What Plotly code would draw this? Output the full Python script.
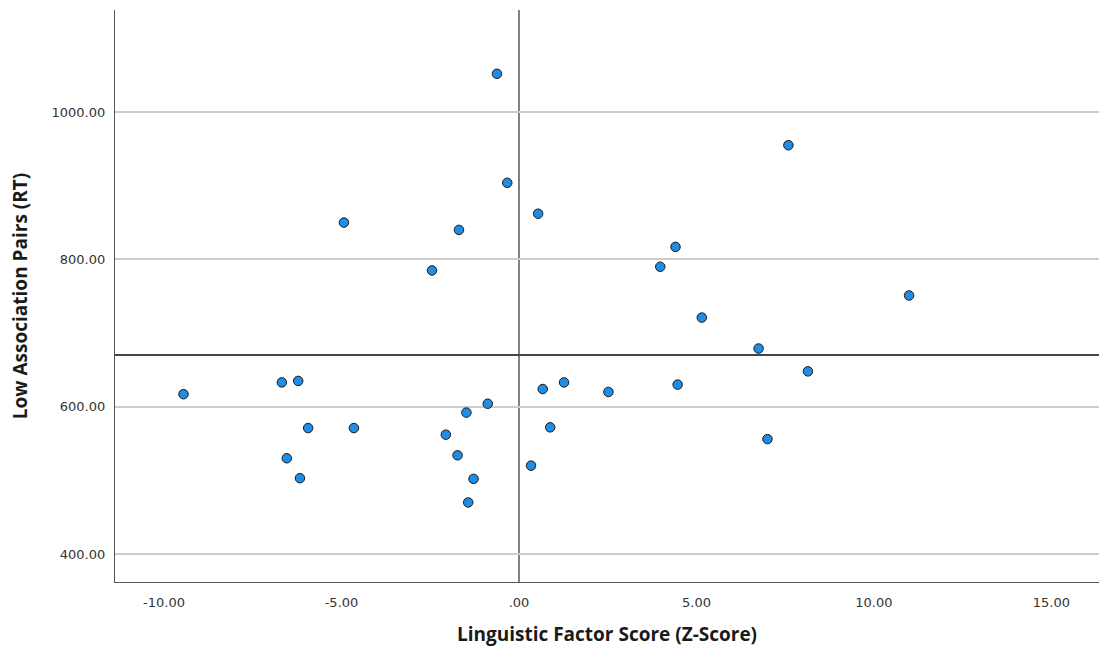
import plotly.graph_objects as go

# Data
linguistic_z = [-0.62, -0.33, 0.54, -4.93, -1.69, -2.45,
                7.59, 4.41, 3.98, 10.99, 5.15,
                -9.45, -6.68, -6.22, -5.94, -4.65, -6.54, -6.17,
                -0.88, -1.48, -2.06, -1.73, -1.28, -1.43, 0.34, 0.67, 0.88,
                6.75, 8.14, 1.27, 2.52, 4.47, 7.00]
low_assoc_rt = [1052, 904, 862, 850, 840, 785,
                955, 817, 790, 751, 721,
                617, 633, 635, 571, 571, 530, 503,
                604, 592, 562, 534, 502, 470, 520, 624, 572,
                679, 648, 633, 620, 630, 556]

x_ticks = [-10, -5, 0, 5, 10, 15]
x_tick_labels = ["-10.00", "-5.00", ".00", "5.00", "10.00", "15.00"]
y_ticks = [400, 600, 800, 1000]
y_tick_labels = ["400.00", "600.00", "800.00", "1000.00"]
x_ref = 0.0
y_ref = 670.2

fig = go.Figure()
fig.add_trace(go.Scatter(
    x=linguistic_z, y=low_assoc_rt, mode="markers",
    marker=dict(size=9.5, color="#1f8ce6", line=dict(color="#1a1a1a", width=1)),
    showlegend=False, cliponaxis=False,
))

fig.add_shape(type="line", xref="x", yref="paper", x0=x_ref, x1=x_ref, y0=0, y1=1,
              line=dict(color="#555555", width=1.5), layer="below")
fig.add_shape(type="line", xref="paper", yref="y", x0=0, x1=1, y0=y_ref, y1=y_ref,
              line=dict(color="#444444", width=1.8), layer="below")

fig.update_layout(
    width=1099, height=652,
    margin=dict(l=115, r=0, t=10, b=70),
    paper_bgcolor="white", plot_bgcolor="white",
    font=dict(family="DejaVu Sans", size=13, color="#333333"),
    xaxis=dict(
        range=[-11.38, 16.34], tickvals=x_ticks, ticktext=x_tick_labels,
        showgrid=False, zeroline=False, showline=True, linecolor="#555555", linewidth=1.2,
        ticks="outside", ticklen=8, tickcolor="white",
        tickfont=dict(size=13, color="#333333"),
        title=dict(text="Linguistic Factor Score (Z-Score)", standoff=18,
                   font=dict(family="Open Sans", size=19, color="#1a1a1a", weight="bold")),
    ),
    yaxis=dict(
        range=[362, 1138.6], tickvals=y_ticks, ticktext=y_tick_labels,
        showgrid=True, gridcolor="#cccccc", gridwidth=1.5,
        zeroline=False, showline=True, linecolor="#555555", linewidth=1.2,
        ticks="outside", ticklen=6, tickcolor="white",
        tickfont=dict(size=13, color="#333333"),
        title=dict(text="Low Association Pairs (RT)", standoff=18,
                   font=dict(family="Open Sans", size=19, color="#1a1a1a", weight="bold")),
    ),
)

fig.write_html("out.html")
